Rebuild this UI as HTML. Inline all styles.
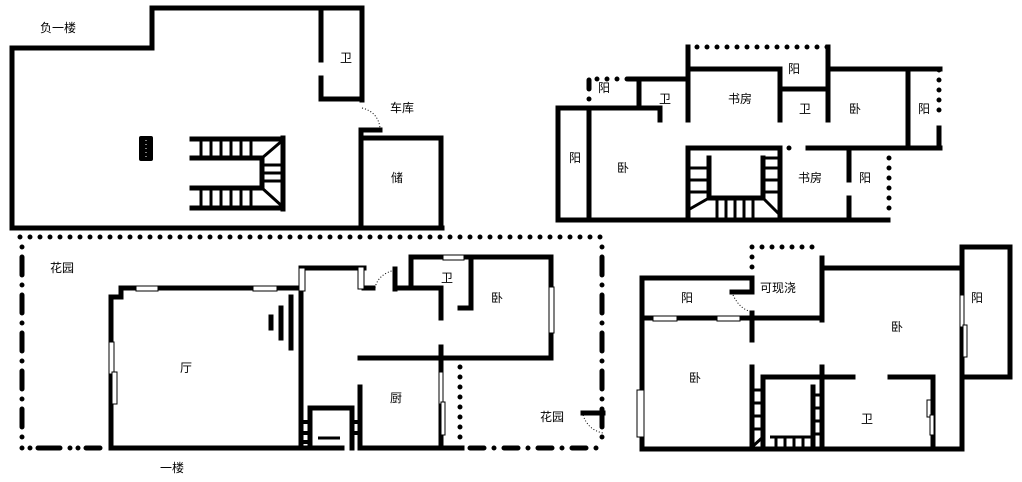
<!DOCTYPE html>
<html><head><meta charset="utf-8"><style>
html,body{margin:0;padding:0;background:#fff;}
svg{display:block}
text{font-family:"Liberation Sans","Noto Sans CJK SC",sans-serif;font-size:12px;fill:#000}
</style></head><body>
<svg width="1022" height="482" viewBox="0 0 1022 482" xmlns="http://www.w3.org/2000/svg">
<g stroke="#000" stroke-width="5" fill="none" stroke-linecap="square">
<!-- Basement -->
<polyline points="12,228 12,48 152,48 152,8 362,8 362,100"/>
<line x1="12" y1="228" x2="442" y2="228"/>
<line x1="321" y1="8" x2="321" y2="60"/>
<polyline points="321,78 321,99 360,99"/>
<polyline points="380,130 361,130 361,228"/>
<polyline points="361,138 441,138 441,228"/>
<line x1="283" y1="138" x2="283" y2="209"/>
<line x1="192" y1="139" x2="283" y2="139"/><line x1="192" y1="158" x2="262" y2="158"/>
<line x1="192" y1="188" x2="262" y2="188"/><line x1="192" y1="208" x2="283" y2="208"/>
<line x1="262" y1="158" x2="262" y2="188"/>
</g>
<rect x="139" y="136" width="14" height="25" rx="2" fill="#000"/>
<line x1="146" y1="140" x2="146" y2="158" stroke="#fff" stroke-width="1" stroke-dasharray="1 3"/>
<g stroke="#000" stroke-width="3">
<line x1="201" y1="139" x2="201" y2="158"/><line x1="211" y1="139" x2="211" y2="158"/><line x1="221" y1="139" x2="221" y2="158"/><line x1="231" y1="139" x2="231" y2="158"/><line x1="241" y1="139" x2="241" y2="158"/><line x1="251" y1="139" x2="251" y2="158"/>
<line x1="201" y1="188" x2="201" y2="208"/><line x1="211" y1="188" x2="211" y2="208"/><line x1="221" y1="188" x2="221" y2="208"/><line x1="231" y1="188" x2="231" y2="208"/><line x1="241" y1="188" x2="241" y2="208"/><line x1="251" y1="188" x2="251" y2="208"/>
<line x1="262" y1="165" x2="283" y2="165"/><line x1="262" y1="173" x2="283" y2="173"/><line x1="262" y1="181" x2="283" y2="181"/>
<line x1="262" y1="158" x2="283" y2="140"/><line x1="262" y1="188" x2="283" y2="207"/>
</g>
<path d="M362,108 Q378,112 380,128" stroke="#000" stroke-width="1" stroke-dasharray="1 2" fill="none"/>

<!-- First floor garden border -->
<g stroke="#000" stroke-width="5" fill="none" stroke-linecap="round">
<line x1="20" y1="237" x2="602" y2="237" stroke-dasharray="0 10"/>
<line x1="22" y1="247" x2="22" y2="440" stroke-dasharray="0 10 18 10"/>
<line x1="22" y1="448" x2="100" y2="448" stroke-dasharray="0 8 0 8 22 10"/>
<line x1="470" y1="448" x2="602" y2="448" stroke-dasharray="14 10 0 10"/>
<line x1="602" y1="247" x2="602" y2="440" stroke-dasharray="0 10 18 10"/>
<line x1="460" y1="367" x2="460" y2="440" stroke-dasharray="0 10"/>
</g>
<g stroke="#000" stroke-width="5" fill="none" stroke-linecap="square">
<polyline points="297,288 121,288 121,297 111,297 111,448 342,448"/>
<line x1="360" y1="448" x2="462" y2="448"/>
<line x1="301" y1="268" x2="301" y2="448"/>
<line x1="301" y1="268" x2="364" y2="268"/>
<line x1="364" y1="288" x2="373" y2="288"/>
<line x1="395" y1="269" x2="395" y2="289"/>
<polyline points="395,288 441,288 441,318"/>
<polyline points="411,288 411,257 551,257 551,358"/>
<polyline points="471,257 471,308 460,308"/>
<line x1="360" y1="358" x2="551" y2="358"/>
<line x1="441" y1="347" x2="441" y2="448"/>
<line x1="360" y1="387" x2="360" y2="448"/>
<line x1="291" y1="297" x2="291" y2="348"/><line x1="281" y1="308" x2="281" y2="338"/><line x1="271" y1="317" x2="271" y2="328"/>
<polyline points="310,448 310,408 352,408 352,448"/>
<line x1="583" y1="413" x2="603" y2="413"/>
</g>
<g stroke="#000" stroke-width="4">
<line x1="301" y1="422" x2="310" y2="422"/><line x1="301" y1="433" x2="310" y2="433"/><line x1="301" y1="442" x2="310" y2="442"/>
<line x1="352" y1="422" x2="360" y2="422"/><line x1="352" y1="433" x2="360" y2="433"/>
<line x1="318" y1="438" x2="340" y2="438" stroke-width="3"/>
</g>
<g stroke="#000" stroke-width="1" fill="#fff">
<rect x="136" y="286" width="22" height="5"/><rect x="253" y="286" width="24" height="5"/>
<rect x="109" y="342" width="5" height="32"/><rect x="112" y="372" width="5" height="32"/>
<rect x="299" y="268" width="6" height="23"/><rect x="358" y="267" width="6" height="22"/>
<rect x="443" y="255" width="21" height="5"/>
<rect x="549" y="287" width="5" height="46"/>
<rect x="439" y="372" width="4" height="32"/><rect x="441" y="402" width="4" height="33"/>
</g>
<path d="M375,288 Q378,274 395,270" stroke="#000" stroke-width="1" stroke-dasharray="1 2" fill="none"/>
<path d="M583,415 Q588,430 603,433" stroke="#000" stroke-width="1" stroke-dasharray="1 2" fill="none"/>

<!-- Upper right floor -->
<g stroke="#000" stroke-width="5" fill="none" stroke-linecap="round">
<line x1="697" y1="47" x2="828" y2="47" stroke-dasharray="0 10"/>
<line x1="597" y1="79" x2="630" y2="79" stroke-dasharray="0 10"/>
<line x1="939" y1="70" x2="939" y2="120" stroke-dasharray="0 10"/>
<line x1="889" y1="158" x2="889" y2="212" stroke-dasharray="0 10"/>
<line x1="589" y1="80" x2="589" y2="89"/><line x1="589" y1="99" x2="589" y2="99"/>
<line x1="789" y1="148" x2="789" y2="148"/>
</g>
<g stroke="#000" stroke-width="5" fill="none" stroke-linecap="square">
<line x1="688" y1="47" x2="688" y2="120"/>
<polyline points="688,69 780,69 780,120"/>
<line x1="780" y1="89" x2="827" y2="89"/>
<line x1="828" y1="47" x2="828" y2="120"/>
<line x1="828" y1="69" x2="940" y2="69"/>
<line x1="908" y1="69" x2="908" y2="148"/>
<line x1="808" y1="148" x2="940" y2="148"/>
<line x1="939" y1="128" x2="939" y2="148"/>
<line x1="630" y1="79" x2="688" y2="79"/>
<line x1="639" y1="79" x2="639" y2="108"/>
<polyline points="558,220 558,108 660,108 660,120"/>
<line x1="589" y1="108" x2="589" y2="220"/>
<line x1="558" y1="220" x2="888" y2="220"/>
<polyline points="688,220 688,148 780,148 780,220"/>
<polyline points="709,158 709,198 763,198 763,158"/>
<line x1="849" y1="153" x2="849" y2="180"/><line x1="849" y1="198" x2="849" y2="220"/>
</g>
<g stroke="#000" stroke-width="3">
<line x1="688" y1="168" x2="709" y2="168"/><line x1="688" y1="180" x2="709" y2="180"/><line x1="688" y1="192" x2="709" y2="192"/>
<line x1="763" y1="158" x2="780" y2="158"/><line x1="763" y1="168" x2="780" y2="168"/><line x1="763" y1="180" x2="780" y2="180"/><line x1="763" y1="192" x2="780" y2="192"/>
<line x1="717" y1="198" x2="717" y2="220"/><line x1="726" y1="198" x2="726" y2="220"/><line x1="735" y1="198" x2="735" y2="220"/><line x1="744" y1="198" x2="744" y2="220"/><line x1="753" y1="198" x2="753" y2="220"/>
<line x1="688" y1="210" x2="709" y2="198"/><line x1="763" y1="198" x2="780" y2="215"/>
</g>

<!-- Lower right floor -->
<g stroke="#000" stroke-width="5" fill="none" stroke-linecap="round">
<line x1="752" y1="247" x2="822" y2="247" stroke-dasharray="0 10"/>
<line x1="752" y1="257" x2="752" y2="268" stroke-dasharray="0 10"/>
</g>
<g stroke="#000" stroke-width="5" fill="none" stroke-linecap="square">
<line x1="822" y1="258" x2="822" y2="320"/><line x1="822" y1="367" x2="822" y2="449"/>
<line x1="822" y1="268" x2="962" y2="268"/>
<polyline points="962,449 962,247 1010,247 1010,377 962,377"/>
<polyline points="642,449 642,278 752,278 752,292 732,292"/>
<line x1="642" y1="318" x2="822" y2="318"/>
<line x1="752" y1="313" x2="752" y2="340"/>
<line x1="752" y1="367" x2="752" y2="449"/>
<line x1="642" y1="449" x2="962" y2="449"/>
<polyline points="763,449 763,377 853,377"/>
<polyline points="890,377 933,377 933,449"/>
<line x1="813" y1="387" x2="813" y2="449"/>
</g>
<g stroke="#000" stroke-width="3">
<line x1="752" y1="390" x2="763" y2="390"/><line x1="752" y1="403" x2="763" y2="403"/><line x1="752" y1="416" x2="763" y2="416"/><line x1="752" y1="429" x2="763" y2="429"/>
<line x1="813" y1="395" x2="822" y2="395"/><line x1="813" y1="408" x2="822" y2="408"/><line x1="813" y1="421" x2="822" y2="421"/><line x1="813" y1="434" x2="822" y2="434"/>
<line x1="770" y1="437" x2="813" y2="437"/>
<line x1="776" y1="437" x2="776" y2="449"/><line x1="785" y1="437" x2="785" y2="449"/><line x1="794" y1="437" x2="794" y2="449"/><line x1="803" y1="437" x2="803" y2="449"/>
<line x1="752" y1="447" x2="763" y2="437"/>
</g>
<g stroke="#000" stroke-width="1" fill="#fff">
<rect x="653" y="316" width="24" height="5"/><rect x="717" y="316" width="23" height="5"/>
<rect x="637" y="390" width="7" height="47"/>
<rect x="960" y="295" width="4" height="32"/><rect x="963" y="325" width="4" height="32"/>
<rect x="927" y="400" width="4" height="17"/><rect x="930" y="415" width="4" height="20"/>
</g>
<path d="M733,295 Q740,310 753,312" stroke="#000" stroke-width="1" stroke-dasharray="1 2" fill="none"/>

<!-- Labels -->
<text x="40" y="32">负一楼</text>
<text x="340" y="62">卫</text>
<text x="390" y="112">车库</text>
<text x="391" y="182">储</text>
<text x="598" y="92">阳</text>
<text x="659" y="103">卫</text>
<text x="728" y="103">书房</text>
<text x="788" y="73">阳</text>
<text x="799" y="113">卫</text>
<text x="849" y="113">卧</text>
<text x="918" y="113">阳</text>
<text x="569" y="162">阳</text>
<text x="617" y="172">卧</text>
<text x="798" y="182">书房</text>
<text x="859" y="182">阳</text>
<text x="50" y="272">花园</text>
<text x="441" y="282">卫</text>
<text x="491" y="302">卧</text>
<text x="180" y="372">厅</text>
<text x="390" y="402">厨</text>
<text x="540" y="421">花园</text>
<text x="160" y="472">一楼</text>
<text x="760" y="292">可现浇</text>
<text x="681" y="302">阳</text>
<text x="891" y="331">卧</text>
<text x="971" y="302">阳</text>
<text x="689" y="382">卧</text>
<text x="861" y="423">卫</text>
</svg>
</body></html>
